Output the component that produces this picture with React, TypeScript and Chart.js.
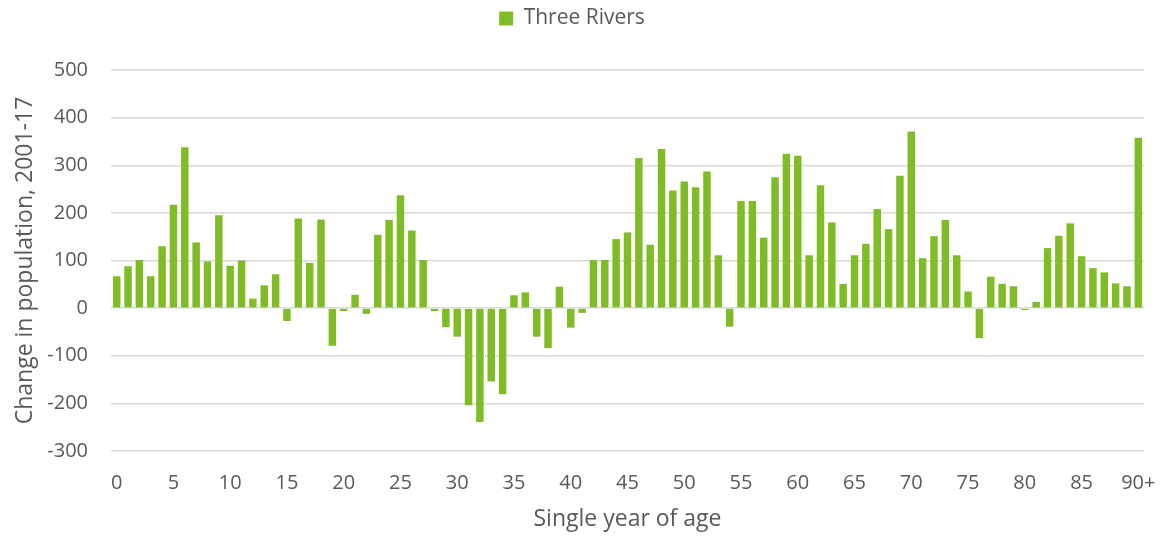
import React, { useEffect, useRef } from "react";
import { Chart, registerables } from "chart.js";

Chart.register(...registerables);

const ages: string[] = [
  "0","1","2","3","4","5","6","7","8","9",
  "10","11","12","13","14","15","16","17","18","19",
  "20","21","22","23","24","25","26","27","28","29",
  "30","31","32","33","34","35","36","37","38","39",
  "40","41","42","43","44","45","46","47","48","49",
  "50","51","52","53","54","55","56","57","58","59",
  "60","61","62","63","64","65","66","67","68","69",
  "70","71","72","73","74","75","76","77","78","79",
  "80","81","82","83","84","85","86","87","88","89",
  "90+",
];

const threeRivers: number[] = [
  67, 88, 101, 67, 130, 217, 338, 138, 98, 195,
  89, 100, 20, 48, 71, -27, 188, 95, 186, -79,
  -6, 28, -12, 154, 185, 237, 163, 101, -6, -40,
  -60, -204, -239, -154, -181, 27, 33, -60, -84, 45,
  -41, -10, 101, 101, 145, 159, 315, 133, 334, 247,
  266, 254, 287, 111, -39, 225, 225, 148, 275, 324,
  320, 111, 258, 180, 51, 111, 135, 208, 166, 278,
  371, 105, 151, 185, 111, 35, -63, 66, 51, 46,
  -4, 13, 126, 152, 178, 109, 84, 75, 52, 46,
  358,
];

const seriesName = "Three Rivers";
const yTitle = "Change in population, 2001-17";
const xTitle = "Single year of age";

const FONT = "'Open Sans', 'Noto Sans', sans-serif";
const GREY = "#595959";
const GREEN = "#80bc26";

export default function App() {
  const ref = useRef<HTMLCanvasElement | null>(null);

  useEffect(() => {
    if (!ref.current) return;
    const legendHeight = {
      id: "legendHeight",
      beforeInit(chart: any) {
        const orig = chart.legend.fit;
        chart.legend.fit = function () {
          orig.bind(chart.legend)();
          this.height = 70;
        };
      },
    };
    const chart = new Chart(ref.current, {
      type: "bar",
      data: {
        labels: ages,
        datasets: [
          {
            label: seriesName,
            data: threeRivers,
            backgroundColor: GREEN,
            borderWidth: 0,
            barPercentage: 0.66,
            categoryPercentage: 1,
          },
        ],
      },
      plugins: [legendHeight],
      options: {
        animation: false,
        responsive: false,
        maintainAspectRatio: false,
        layout: { padding: { left: 0, right: 18, top: 0, bottom: 0 } },
        plugins: {
          legend: {
            display: true,
            position: "top",
            labels: {
              boxWidth: 14,
              boxHeight: 14,
              color: GREY,
              padding: 8,
              font: { family: FONT, size: 21 },
            },
          },
          tooltip: { enabled: false },
        },
        scales: {
          x: {
            grid: { display: false, drawTicks: false },
            border: { display: false },
            ticks: {
              autoSkip: false,
              maxRotation: 0,
              minRotation: 0,
              color: GREY,
              padding: 20,
              font: { family: FONT, size: 20 },
              callback: function (_v: any, i: number) {
                return i % 5 === 0 ? ages[i] : "";
              },
            },
            title: {
              display: true,
              text: xTitle,
              color: GREY,
              font: { family: FONT, size: 23 },
              padding: { top: 4, bottom: 3 },
            },
            afterFit(scale: any) {
              scale.height = 85;
              scale.paddingLeft = 0;
              scale.paddingRight = 0;
            },
          },
          y: {
            min: -300,
            max: 500,
            grid: { color: "#d9d9d9", lineWidth: 1.5, drawTicks: false },
            border: { display: false },
            ticks: {
              stepSize: 100,
              color: GREY,
              padding: 23,
              font: { family: FONT, size: 20 },
            },
            title: {
              display: true,
              text: yTitle,
              color: GREY,
              font: { family: FONT, size: 23 },
              padding: { top: 12, bottom: 0 },
            },
            afterFit(scale: any) {
              scale.width = 111;
            },
          },
        },
      },
    });
    return () => chart.destroy();
  }, []);

  return (
    <div style={{ position: "fixed", left: 0, top: 0, width: 1162, height: 536, background: "#fff" }}>
      <canvas ref={ref} width={1162} height={536} style={{ width: 1162, height: 536 }} />
    </div>
  );
}
